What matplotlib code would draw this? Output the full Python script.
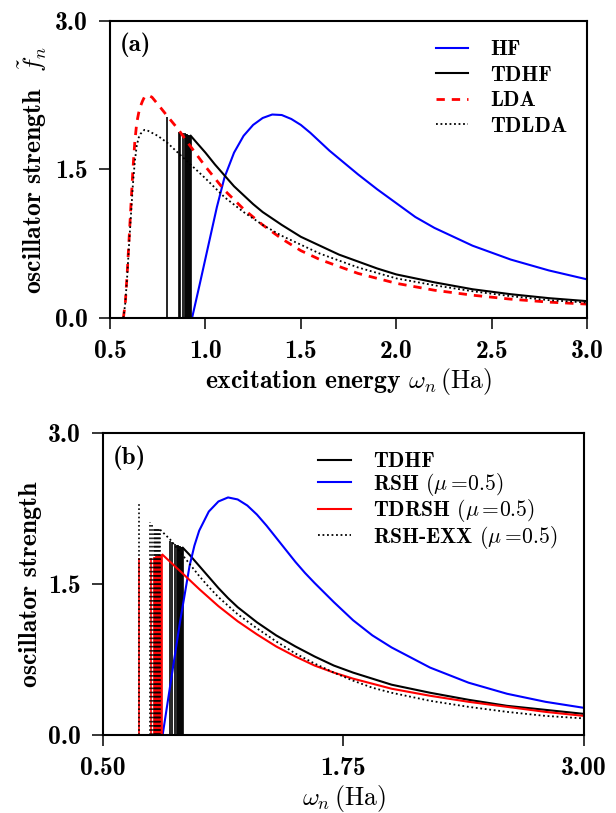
import numpy as np
import matplotlib
matplotlib.use("Agg")
import matplotlib.pyplot as plt
from matplotlib.ticker import FormatStrFormatter

plt.rcParams['font.family'] = 'cmb10'
plt.rcParams['mathtext.fontset'] = 'cm'
plt.rcParams['axes.unicode_minus'] = False

# ---------------- panel (a) data ----------------
hf_x = [0.93, 0.95, 0.97, 1.00, 1.03, 1.06, 1.10, 1.15, 1.20, 1.25, 1.30, 1.35, 1.40,
        1.45, 1.50, 1.55, 1.60, 1.65, 1.70, 1.80, 1.90, 2.00, 2.10, 2.20, 2.40, 2.60,
        2.80, 3.00]
hf_y = [0.00, 0.17, 0.34, 0.60, 0.86, 1.12, 1.42, 1.67, 1.84, 1.95, 2.02, 2.055, 2.05,
        2.01, 1.95, 1.87, 1.78, 1.69, 1.61, 1.45, 1.30, 1.16, 1.02, 0.91, 0.73, 0.59,
        0.48, 0.39]

tdhf_a_sx = [0.80, 0.862, 0.867, 0.885, 0.893, 0.899, 0.905, 0.910, 0.915, 0.919, 0.923]
tdhf_a_sy = [2.03, 1.88, 1.88, 1.87, 1.87, 1.86, 1.86, 1.85, 1.85, 1.84, 1.84]
tdhf_a_x = [0.923, 0.95, 1.00, 1.05, 1.10, 1.15, 1.20, 1.25, 1.30, 1.40, 1.50, 1.60,
            1.70, 1.80, 1.90, 2.00, 2.20, 2.40, 2.60, 2.80, 3.00]
tdhf_a_y = [1.84, 1.78, 1.67, 1.55, 1.44, 1.33, 1.24, 1.15, 1.07, 0.94, 0.82, 0.73,
            0.64, 0.57, 0.50, 0.44, 0.36, 0.29, 0.24, 0.20, 0.17]

lda_x = [0.57, 0.58, 0.59, 0.60, 0.61, 0.62, 0.63, 0.64, 0.65, 0.66, 0.67, 0.68, 0.70,
         0.72, 0.75, 0.80, 0.86, 0.90, 0.95, 1.00, 1.10, 1.20, 1.30, 1.40, 1.50, 1.60,
         1.80, 2.00, 2.20, 2.40, 2.60, 2.80, 3.00]
lda_y = [0.00, 0.15, 0.45, 0.80, 1.15, 1.50, 1.78, 1.97, 2.07, 2.14, 2.19, 2.23, 2.25,
         2.23, 2.16, 2.04, 1.90, 1.79, 1.66, 1.53, 1.29, 1.10, 0.94, 0.80, 0.68, 0.59,
         0.45, 0.35, 0.28, 0.23, 0.19, 0.16, 0.14]

tdlda_x = [0.57, 0.58, 0.59, 0.60, 0.61, 0.62, 0.63, 0.64, 0.65, 0.66, 0.68, 0.70, 0.75,
           0.80, 0.85, 0.90, 0.95, 1.00, 1.10, 1.20, 1.30, 1.40, 1.50, 1.60, 1.80, 2.00,
           2.20, 2.40, 2.60, 2.80, 3.00]
tdlda_y = [0.00, 0.15, 0.42, 0.75, 1.05, 1.35, 1.58, 1.74, 1.82, 1.86, 1.90, 1.89, 1.84,
           1.77, 1.68, 1.59, 1.50, 1.41, 1.22, 1.07, 0.94, 0.83, 0.74, 0.65, 0.51, 0.40,
           0.33, 0.27, 0.22, 0.18, 0.155]

# ---------------- panel (b) data ----------------
tdhf_b_sx = [0.848, 0.861, 0.876, 0.884, 0.890, 0.896, 0.901, 0.906, 0.910, 0.914]
tdhf_b_sy = [1.93, 1.92, 1.90, 1.89, 1.89, 1.88, 1.88, 1.87, 1.87, 1.86]
tdhf_b_x = [0.915, 0.95, 1.00, 1.05, 1.10, 1.15, 1.20, 1.30, 1.40, 1.50, 1.60, 1.70,
            1.80, 1.90, 2.00, 2.20, 2.40, 2.60, 2.80, 3.00]
tdhf_b_y = [1.86, 1.79, 1.68, 1.57, 1.46, 1.36, 1.27, 1.12, 0.99, 0.88, 0.78, 0.69,
            0.62, 0.56, 0.50, 0.42, 0.35, 0.29, 0.25, 0.21]

rsh_x = [0.81, 0.85, 0.90, 0.95, 0.975, 1.00, 1.05, 1.10, 1.15, 1.20, 1.25, 1.30, 1.35,
         1.40, 1.45, 1.50, 1.55, 1.60, 1.70, 1.80, 1.90, 2.00, 2.20, 2.40, 2.60, 2.80,
         3.00]
rsh_y = [0.00, 0.50, 1.12, 1.68, 1.88, 2.03, 2.22, 2.32, 2.36, 2.34, 2.28, 2.19, 2.08,
         1.96, 1.84, 1.72, 1.61, 1.51, 1.32, 1.14, 0.99, 0.87, 0.67, 0.52, 0.41, 0.33,
         0.27]

tdrsh_sx = [0.687, 0.749, 0.766, 0.772, 0.777, 0.782, 0.787, 0.792, 0.797, 0.802, 0.807]
tdrsh_sy = [1.76, 1.76, 1.77, 1.77, 1.78, 1.78, 1.78, 1.79, 1.79, 1.79, 1.80]
tdrsh_x = [0.81, 0.90, 1.00, 1.10, 1.20, 1.30, 1.40, 1.50, 1.60, 1.70, 1.80, 1.90, 2.00,
           2.20, 2.40, 2.60, 2.80, 3.00]
tdrsh_y = [1.79, 1.63, 1.45, 1.28, 1.13, 1.00, 0.88, 0.78, 0.69, 0.62, 0.56, 0.51, 0.46,
           0.39, 0.33, 0.28, 0.23, 0.19]

exx_sx = [0.687, 0.744, 0.753, 0.766, 0.772, 0.777, 0.782, 0.787, 0.792, 0.797]
exx_sy = [2.31, 2.12, 2.09, 2.07, 2.07, 2.06, 2.06, 2.05, 2.05, 2.04]
exx_x = [0.797, 0.85, 0.90, 0.95, 1.00, 1.05, 1.10, 1.20, 1.30, 1.40, 1.50, 1.60, 1.70,
         1.80, 1.90, 2.00, 2.20, 2.40, 2.60, 2.80, 3.00]
exx_y = [2.04, 1.94, 1.82, 1.70, 1.58, 1.47, 1.37, 1.20, 1.06, 0.93, 0.81, 0.71, 0.62,
         0.54, 0.47, 0.42, 0.34, 0.28, 0.23, 0.19, 0.165]

xticks_a = [0.5, 1.0, 1.5, 2.0, 2.5, 3.0]
xticks_b = [0.50, 1.75, 3.00]
yticks = [0.0, 1.5, 3.0]

lw = 1.5
slw = 1.2

fig = plt.figure(figsize=(6.16, 8.13), dpi=100)
ax1 = fig.add_axes([0.1786, 0.6089, 0.7744, 0.3653])
ax2 = fig.add_axes([0.1672, 0.0959, 0.7808, 0.3715])

# panel (a)
ax1.plot(hf_x, hf_y, color='blue', lw=lw, label='HF')
ax1.vlines(tdhf_a_sx, 0, tdhf_a_sy, color='black', lw=slw)
ax1.plot(tdhf_a_x, tdhf_a_y, color='black', lw=lw, label='TDHF')
ax1.plot(lda_x, lda_y, color='red', lw=2.0, ls=(0, (3, 2.5)), label='LDA')
ax1.plot(tdlda_x, tdlda_y, color='black', lw=1.3, ls=(0, (1, 1.5)), label='TDLDA')

# panel (b)
ax2.vlines(tdhf_b_sx, 0, tdhf_b_sy, color='black', lw=slw)
ax2.plot(tdhf_b_x, tdhf_b_y, color='black', lw=lw, label='TDHF')
ax2.plot(rsh_x, rsh_y, color='blue', lw=lw, label=r'RSH $(\mu =\!0.5)$')
ax2.vlines(tdrsh_sx, 0, tdrsh_sy, color='red', lw=slw)
ax2.plot(tdrsh_x, tdrsh_y, color='red', lw=lw, label=r'TDRSH $(\mu =\!0.5)$')
ax2.vlines(exx_sx, 0, exx_sy, color='black', lw=slw, linestyles=(0, (1, 1.5)))
ax2.plot(exx_x, exx_y, color='black', lw=1.3, ls=(0, (1, 1.5)),
         label=r'RSH-EXX $(\mu =\!0.5)$')

for ax, xt, fmt in [(ax1, xticks_a, '%.1f'), (ax2, xticks_b, '%.2f')]:
    ax.set_xlim(0.5, 3.0)
    ax.set_ylim(0.0, 3.0)
    ax.set_xticks(xt)
    ax.set_yticks(yticks)
    ax.xaxis.set_major_formatter(FormatStrFormatter(fmt))
    ax.yaxis.set_major_formatter(FormatStrFormatter('%.1f'))
    ax.tick_params(direction='out', length=8, width=1.1, labelsize=18.5, pad=8,
                   top=False, right=False)
    for s in ax.spines.values():
        s.set_linewidth(1.5)

ax1.legend(loc='upper right', frameon=False, fontsize=15.5, handlelength=1.5,
           handletextpad=1.05, labelspacing=0.3, borderaxespad=0.5)
ax2.legend(loc='upper right', bbox_to_anchor=(0.985, 1.0), frameon=False,
           fontsize=15.5, handlelength=1.5, handletextpad=1.05, labelspacing=-0.03,
           borderaxespad=0.5)

ax1.text(0.02, 0.96, '(a)', transform=ax1.transAxes, fontsize=18, va='top')
ax2.text(0.02, 0.96, '(b)', transform=ax2.transAxes, fontsize=18, va='top')

ax1.set_xlabel(r'excitation energy $\omega_n\,\mathrm{(Ha)}$', fontsize=18.5, labelpad=2)
ax1.set_ylabel(r'oscillator strength  $\tilde{f}_n$', fontsize=18.5, labelpad=4)
ax2.set_xlabel(r'$\omega_n\,\mathrm{(Ha)}$', fontsize=18.5, labelpad=2)
ax2.set_ylabel('oscillator strength', fontsize=18.5, labelpad=4)

fig.savefig('out.png', dpi=100)
